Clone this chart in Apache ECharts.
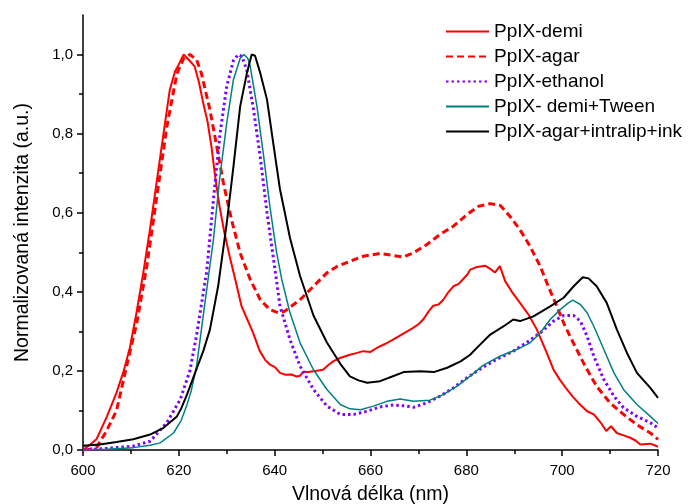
<!DOCTYPE html>
<html>
<head>
<meta charset="utf-8">
<script src="https://cdn.jsdelivr.net/npm/echarts@6/dist/echarts.min.js"></script>
<style>
html,body{margin:0;padding:0;background:#fff;}
#chart{width:693px;height:504px;}
</style>
</head>
<body>
<div id="chart"></div>
<script>
// Series names
const seriesNames = ['PpIX-demi', 'PpIX-agar', 'PpIX-ethanol', 'PpIX- demi+Tween', 'PpIX-agar+intralip+ink'];

// [wavelength nm, normalized intensity]
const demi = [
  [600,0.0],[601.5,0.014],[602.8,0.027],[603.5,0.045],[605,0.085],[607,0.145],[608.5,0.2],[609.8,0.26],
  [611.2,0.35],[612.6,0.45],[614,0.56],[615.4,0.68],[616.8,0.8],[618.1,0.91],[619.2,0.957],[620,0.975],
  [621,1.0],[622.2,0.985],[623.3,0.97],[624.2,0.93],[625.1,0.877],[626,0.83],[626.8,0.768],[627.6,0.69],
  [628.5,0.616],[629.5,0.55],[630.6,0.49],[631.8,0.43],[633.1,0.363],[634.3,0.33],[635.5,0.296],
  [636.9,0.25],[638,0.228],[639,0.216],[640,0.21],[641.1,0.195],[642.3,0.19],[643.5,0.191],[644.6,0.186],
  [645.3,0.188],[646,0.198],[647,0.197],[648.5,0.2],[650.1,0.203],[651.2,0.215],[652.2,0.224],[653.5,0.232],
  [655.7,0.241],[657,0.245],[658.5,0.25],[660,0.248],[661.3,0.258],[663,0.268],[664.7,0.279],[666.5,0.292],
  [668.9,0.309],[670,0.318],[671,0.33],[672.1,0.35],[673.1,0.365],[674.2,0.368],[675.2,0.38],[676.3,0.4],
  [677.3,0.414],[678.4,0.42],[679.4,0.433],[680.3,0.445],[680.8,0.456],[682,0.462],[683.9,0.466],
  [685,0.458],[686,0.449],[687,0.465],[688.1,0.427],[689.5,0.4],[691.2,0.372],[693,0.342],[694.7,0.305],
  [696.5,0.254],[698.2,0.203],[699.5,0.178],[701,0.153],[702.2,0.135],[703.4,0.119],[705.2,0.098],
  [706.6,0.09],[708,0.07],[709.2,0.048],[710.2,0.06],[711.4,0.043],[712.8,0.037],[714.2,0.031],
  [715.3,0.024],[716.3,0.014],[718.4,0.016],[719.3,0.012],[720,0.008]
];
const agar = [
  [600.5,0.0],[601.5,0.002],[602.8,0.006],[604.9,0.048],[607,0.1],[609.1,0.212],[611.2,0.32],
  [613.3,0.464],[615.4,0.641],[617.5,0.818],[619.6,0.952],[621,0.99],[622.3,1.0],[623.7,0.987],
  [624.7,0.953],[626.5,0.86],[627.9,0.768],[629.3,0.675],[631,0.582],[632.8,0.498],[634.9,0.431],
  [637,0.38],[639,0.355],[640.7,0.347],[642,0.35],[645.3,0.38],[648.1,0.414],[650.9,0.448],[653,0.464],
  [655.7,0.477],[658.5,0.49],[662,0.497],[664.7,0.492],[666.8,0.488],[668.9,0.498],[671.7,0.519],
  [674.5,0.545],[677.3,0.566],[680.1,0.595],[682.5,0.616],[685,0.623],[687.1,0.618],[689.1,0.591],
  [691.2,0.557],[693.3,0.515],[695.4,0.465],[697.1,0.414],[698.9,0.363],[700.6,0.313],[702.7,0.262],
  [704.8,0.212],[707.2,0.161],[710,0.119],[712.8,0.09],[715.6,0.064],[718.4,0.043],[720,0.027]
];
const ethanol = [
  [600,0.0],[605,0.004],[610.5,0.01],[614,0.022],[617.5,0.069],[620.3,0.128],[622.3,0.2],[623.7,0.29],
  [625,0.39],[625.8,0.45],[627.2,0.63],[628.6,0.8],[630,0.92],[631.4,0.985],[632.4,1.0],[633.2,0.995],
  [634.2,0.96],[635.6,0.86],[637,0.74],[638.4,0.6],[639.8,0.48],[641.1,0.365],[643.2,0.279],[645.3,0.212],
  [648.1,0.153],[650.9,0.111],[653.7,0.09],[656.5,0.09],[659.3,0.098],[662,0.109],[664.8,0.114],
  [667.6,0.111],[669,0.108],[671.7,0.119],[674.5,0.136],[677.3,0.157],[680.1,0.182],[682.9,0.205],
  [686.3,0.229],[689.8,0.25],[692.5,0.271],[695.4,0.296],[698.2,0.326],[700.3,0.34],[702.4,0.34],
  [703.8,0.326],[705.2,0.288],[706.6,0.237],[708.7,0.178],[710.8,0.136],[712.8,0.107],[715.6,0.085],
  [718.4,0.069],[720,0.056]
];
const tween = [
  [600,0.0],[605,0.002],[610.5,0.006],[614,0.012],[616.1,0.018],[618.9,0.043],[620.5,0.075],[621.6,0.111],
  [622.6,0.15],[623.7,0.212],[625.1,0.34],[626.3,0.45],[627.2,0.53],[628.5,0.684],[630,0.827],[631.4,0.937],
  [632.8,0.99],[633.6,1.0],[634.4,0.99],[634.9,0.97],[636.3,0.869],[637.7,0.743],[639,0.616],[640.4,0.5],
  [641.5,0.43],[643.2,0.347],[645.3,0.271],[648.1,0.203],[650.9,0.153],[653.7,0.115],[655.7,0.104],
  [657.9,0.102],[660.6,0.111],[663.4,0.123],[666.2,0.129],[669,0.123],[672.4,0.126],[675.2,0.14],
  [678,0.161],[680.8,0.187],[683.5,0.214],[687,0.237],[690.5,0.254],[693.3,0.271],[695.4,0.296],
  [697.5,0.33],[699.6,0.355],[701.3,0.372],[702.2,0.379],[703.8,0.368],[705.2,0.347],[706.6,0.313],
  [708.7,0.254],[710.8,0.195],[712.8,0.153],[715.6,0.115],[718.4,0.085],[720,0.067]
];
const ink = [
  [600,0.011],[603.5,0.014],[607,0.02],[610.5,0.027],[614,0.039],[616.8,0.056],[619.6,0.085],
  [620.5,0.105],[621.7,0.14],[623.7,0.205],[625.1,0.25],[626.5,0.305],[628.2,0.414],[630,0.574],
  [631.4,0.717],[632.8,0.869],[634.2,0.953],[635.2,1.0],[635.9,0.997],[637,0.953],[638.4,0.886],
  [639.8,0.768],[641.1,0.66],[643.2,0.536],[645.3,0.44],[648.1,0.34],[650.9,0.272],[653.7,0.218],
  [655.7,0.186],[657.5,0.176],[659.3,0.17],[662,0.174],[664.8,0.187],[666.9,0.197],[670.4,0.199],
  [673.2,0.197],[676,0.208],[678.8,0.224],[680.8,0.241],[682.5,0.262],[685,0.292],[687.8,0.313],
  [689.8,0.33],[691.2,0.326],[694,0.338],[697.5,0.363],[700.3,0.385],[702.4,0.414],[704.3,0.437],
  [705.5,0.434],[707.2,0.414],[709.3,0.372],[711.4,0.305],[713.5,0.246],[715.6,0.195],[718.4,0.157],
  [720,0.132]
];

// Tick values
const yMajorTicks = [0, 0.2, 0.4, 0.6, 0.8, 1.0];
const yMinorTicks = [0.1, 0.3, 0.5, 0.7, 0.9];
const xTickStart = 600, xTickEnd = 720, xTickStep = 20;

const FONT = 'Liberation Sans, Arial, sans-serif';
const chart = echarts.init(document.getElementById('chart'), null, {renderer: 'canvas'});

const seriesData = [demi, agar, ethanol, tween, ink];
const styles = [
  {color: '#ff0000', width: 2, type: 'solid'},
  {color: '#ff0000', width: 3, type: [7, 4]},
  {color: '#8000ff', width: 3, type: [2.5, 3]},
  {color: '#008080', width: 1.5, type: 'solid'},
  {color: '#000000', width: 2, type: 'solid'}
];

const option = {
  animation: false,
  backgroundColor: '#ffffff',
  grid: {left: 83, right: 35, top: 15, bottom: 54, containLabel: false, outerBoundsMode: 'none'},
  legend: {
    orient: 'vertical',
    left: 440,
    top: 17,
    itemWidth: 43,
    itemHeight: 14,
    itemGap: 6,
    itemStyle: {color: 'rgba(0,0,0,0)', borderColor: 'rgba(0,0,0,0)', borderWidth: 0, opacity: 0},
    textStyle: {fontFamily: FONT, fontSize: 19, color: '#000'},
    data: seriesNames
  },
  xAxis: {
    type: 'value',
    min: xTickStart, max: xTickEnd, interval: xTickStep,
    name: 'Vlnová délka (nm)',
    nameLocation: 'middle',
    nameGap: 35,
    nameTextStyle: {fontFamily: FONT, fontSize: 19.5, color: '#000'},
    axisLine: {lineStyle: {color: '#000', width: 1.5}},
    axisTick: {show: true, inside: false, length: 6, lineStyle: {color: '#000', width: 1.5}},
    minorTick: {show: true, splitNumber: 2, length: 4, lineStyle: {color: '#000', width: 1.5}},
    axisLabel: {fontFamily: FONT, fontSize: 15, color: '#000', margin: 13},
    splitLine: {show: false}
  },
  yAxis: [{
    type: 'value',
    min: 0, max: 1.1,
    name: 'Normalizovaná intenzita (a.u.)',
    nameLocation: 'middle',
    nameGap: 50,
    nameTextStyle: {fontFamily: FONT, fontSize: 19.5, color: '#000'},
    axisLine: {lineStyle: {color: '#000', width: 1.5}},
    axisTick: {show: true, inside: false, length: 6, customValues: yMajorTicks, lineStyle: {color: '#000', width: 1.5}},
    axisLabel: {fontFamily: FONT, fontSize: 15, color: '#000', margin: 10, customValues: yMajorTicks,
      formatter: v => v.toFixed(1).replace('.', ',')},
    splitLine: {show: false}
  }, {
    type: 'value',
    min: 0, max: 1.1,
    position: 'left',
    axisLine: {show: false},
    axisTick: {show: true, inside: false, length: 4, customValues: yMinorTicks, lineStyle: {color: '#000', width: 1.5}},
    axisLabel: {show: false},
    splitLine: {show: false}
  }],
  series: seriesNames.map((name, i) => ({
    name: name,
    type: 'line',
    yAxisIndex: 0,
    data: seriesData[i],
    showSymbol: false,
    symbol: 'none',
    smooth: false,
    lineStyle: {color: styles[i].color, width: styles[i].width, type: styles[i].type},
    itemStyle: {color: styles[i].color},
    z: 2 + i
  }))
};
chart.setOption(option);
</script>
</body>
</html>
